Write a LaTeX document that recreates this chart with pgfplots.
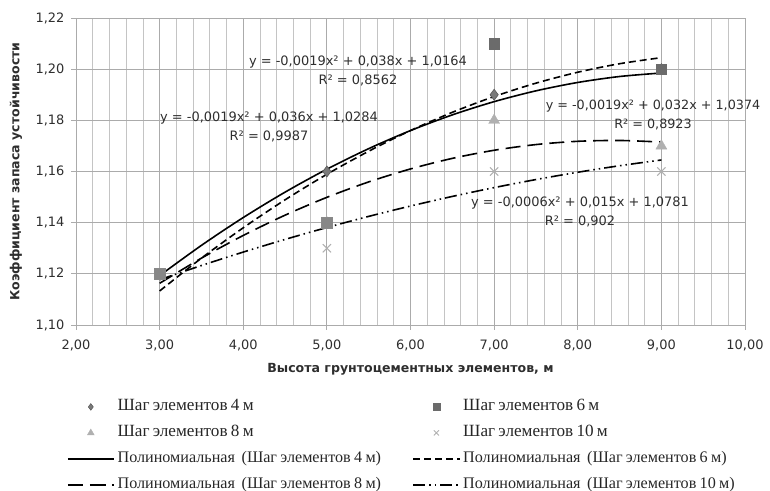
\documentclass[border=0pt]{standalone}
\usepackage{pgfplots}
\pgfplotsset{compat=1.18}
\usepackage{fontspec}
\setmainfont{Liberation Serif}
\newfontfamily\dvs{DejaVu Sans}
\definecolor{gridmaj}{HTML}{ABABAB}
\definecolor{gridmin}{HTML}{C4C4C4}
\definecolor{mdark}{HTML}{6B6B6B}
\definecolor{mdiam}{HTML}{7A7A7A}
\definecolor{mlight}{HTML}{B0B0B0}
\definecolor{txt}{HTML}{2E2E2E}
\begin{document}
\begin{tikzpicture}[x=1bp,y=1bp]
\useasboundingbox (0,0) rectangle (770,491);
\begin{axis}[
  at={(76bp,166bp)}, anchor=south west,
  width=669bp, height=307bp, scale only axis,
  clip=false,
  xmin=2, xmax=10, ymin=1.10, ymax=1.22,
  xtick={2,3,4,5,6,7,8,9,10},
  ytick={1.10,1.12,1.14,1.16,1.18,1.20,1.22},
  minor x tick num=4,
  grid=both,
  major grid style={draw=gridmaj, line width=0.9bp},
  minor grid style={draw=gridmin, line width=0.8bp},
  axis line style={draw=gridmaj, line width=0.9bp},
  tick align=outside, tick pos=left,
  major tick length=5bp, minor tick length=0bp,
  major tick style={draw=gridmaj, line width=0.9bp},
  /pgf/number format/.cd, fixed, fixed zerofill, precision=2, use comma, 1000 sep={}, assume math mode=true,
  /pgfplots/.cd,
  tick label style={font=\dvs\fontsize{13}{15}\selectfont, text=txt},
  xticklabel style={yshift=-6bp},
  yticklabel style={xshift=-3bp},
  xlabel={Высота грунтоцементных элементов, м},
  ylabel={Коэффициент запаса устойчивости},
  label style={font=\dvs\bfseries\fontsize{12.6}{14}\selectfont, text=txt},
  xlabel style={at={(axis description cs:0.5,-0.145)}, anchor=center},
  ylabel style={at={(axis description cs:-0.0897,0.5)}, anchor=center},
  legend columns=2,
  legend image code/.code={\draw[mark repeat=2,mark phase=2,#1] plot coordinates {(0bp,0bp) (23bp,0bp) (46bp,0bp)};},
  legend style={draw=none, fill=none, inner sep=0pt, outer sep=0pt,
    at={(axis description cs:-0.01345,-0.2245)}, anchor=north west,
    column sep=0pt, row sep=0pt,
    nodes={text width=292bp, align=left, inner xsep=3bp, inner ysep=5bp,
      text height=12bp, text depth=4bp, anchor=center, text=black!85}},
]
% markers (series order chosen so that squares lie on top)
\addplot[only marks, mark=diamond*, mark size=5.5bp, draw=black!65, fill=mdiam, line width=0.6bp, forget plot]
  coordinates {(3,1.12) (5,1.16) (7,1.19) (9,1.20)};
\addplot[only marks, mark=square*, mark size=5.3bp, draw=mdark, fill=mdark, forget plot]
  coordinates {(3,1.12) (5,1.14) (7,1.21) (9,1.20)};
\addplot[only marks, mark=triangle*, mark size=6.3bp, draw=mlight, fill=mlight, forget plot]
  coordinates {(3,1.12) (5,1.14) (7,1.18) (9,1.17)};
\addplot[only marks, mark=x, mark size=5.8bp, draw=mlight, line width=1.1bp, forget plot]
  coordinates {(3,1.12) (5,1.13) (7,1.16) (9,1.16)};
\addplot[only marks, mark=square*, mark size=5.3bp, draw=mdark!80, fill=mdark!60!mlight, forget plot]
  coordinates {(3,1.12) (5,1.14)};
% legend proxies for the markers
\addlegendimage{only marks, mark=diamond*, mark size=3.4bp, draw=black!70, fill=mdiam}
\addlegendentry{\fontsize{17.2}{19}\selectfont Шаг элементов 4 м}
\addlegendimage{only marks, mark=square*, mark size=3.3bp, draw=mdark, fill=mdark}
\addlegendentry{\fontsize{17.2}{19}\selectfont Шаг элементов 6 м}
\addlegendimage{only marks, mark=triangle*, mark size=3.9bp, draw=mlight, fill=mlight}
\addlegendentry{\fontsize{17.2}{19}\selectfont Шаг элементов 8 м}
\addlegendimage{only marks, mark=x, mark size=3.6bp, draw=mlight, line width=0.9bp}
\addlegendentry{\fontsize{17.2}{19}\selectfont Шаг элементов 10 м}
% polynomial trendlines
\addplot[black, line width=1.6bp, smooth, no marks] coordinates {
 (3,1.1193) (3.5,1.131125) (4,1.1420) (4.5,1.151925) (5,1.1609) (5.5,1.168925) (6,1.1760)
 (6.5,1.182125) (7,1.1873) (7.5,1.191525) (8,1.1948) (8.5,1.197125) (9,1.1985)};
\addlegendentry{\fontsize{16.2}{18}\selectfont Полиномиальная\ \ (Шаг элементов 4 м)}
\addplot[black, line width=1.6bp, smooth, no marks, dash pattern=on 7bp off 4bp] coordinates {
 (3,1.1133) (3.5,1.126125) (4,1.1380) (4.5,1.148925) (5,1.1589) (5.5,1.167925) (6,1.1760)
 (6.5,1.183125) (7,1.1893) (7.5,1.194525) (8,1.1988) (8.5,1.202125) (9,1.2045)};
\addlegendentry{\fontsize{16.2}{18}\selectfont Полиномиальная\ \ (Шаг элементов 6 м)}
\addplot[black, line width=1.6bp, smooth, no marks, dash pattern=on 15bp off 7bp] coordinates {
 (3,1.1163) (3.5,1.126125) (4,1.1350) (4.5,1.142925) (5,1.1499) (5.5,1.155925) (6,1.1610)
 (6.5,1.165125) (7,1.1683) (7.5,1.170525) (8,1.1718) (8.5,1.172125) (9,1.1715)};
\addlegendentry{\fontsize{16.2}{18}\selectfont Полиномиальная\ \ (Шаг элементов 8 м)}
\addplot[black, line width=1.6bp, smooth, no marks, dash pattern=on 12bp off 4bp on 1.5bp off 4bp on 1.5bp off 4bp] coordinates {
 (3,1.1177) (3.5,1.12325) (4,1.1285) (4.5,1.13345) (5,1.1381) (5.5,1.14245) (6,1.1465)
 (6.5,1.15025) (7,1.1537) (7.5,1.15685) (8,1.1597) (8.5,1.16225) (9,1.1645)};
\addlegendentry{\fontsize{16.2}{18}\selectfont Полиномиальная\ \ (Шаг элементов 10 м)}
% trendline equations
\node[font=\dvs\fontsize{13}{19}\selectfont, text=txt, align=center, inner sep=0pt] at (axis cs:5.372,1.1993)
  {y = -0,0019x² + 0,038x + 1,0164\\R² = 0,8562};
\node[font=\dvs\fontsize{13}{19}\selectfont, text=txt, align=center, inner sep=0pt] at (axis cs:4.308,1.1774)
  {y = -0,0019x² + 0,036x + 1,0284\\R² = 0,9987};
\node[font=\dvs\fontsize{12.8}{19}\selectfont, text=txt, align=center, inner sep=0pt] at (axis cs:8.9,1.1819)
  {y = -0,0019x² + 0,032x + 1,0374\\R² = 0,8923};
\node[font=\dvs\fontsize{13}{19}\selectfont, text=txt, align=center, inner sep=0pt] at (axis cs:8.027,1.1442)
  {y = -0,0006x² + 0,015x + 1,0781\\R² = 0,902};
\end{axis}
\end{tikzpicture}
\end{document}
